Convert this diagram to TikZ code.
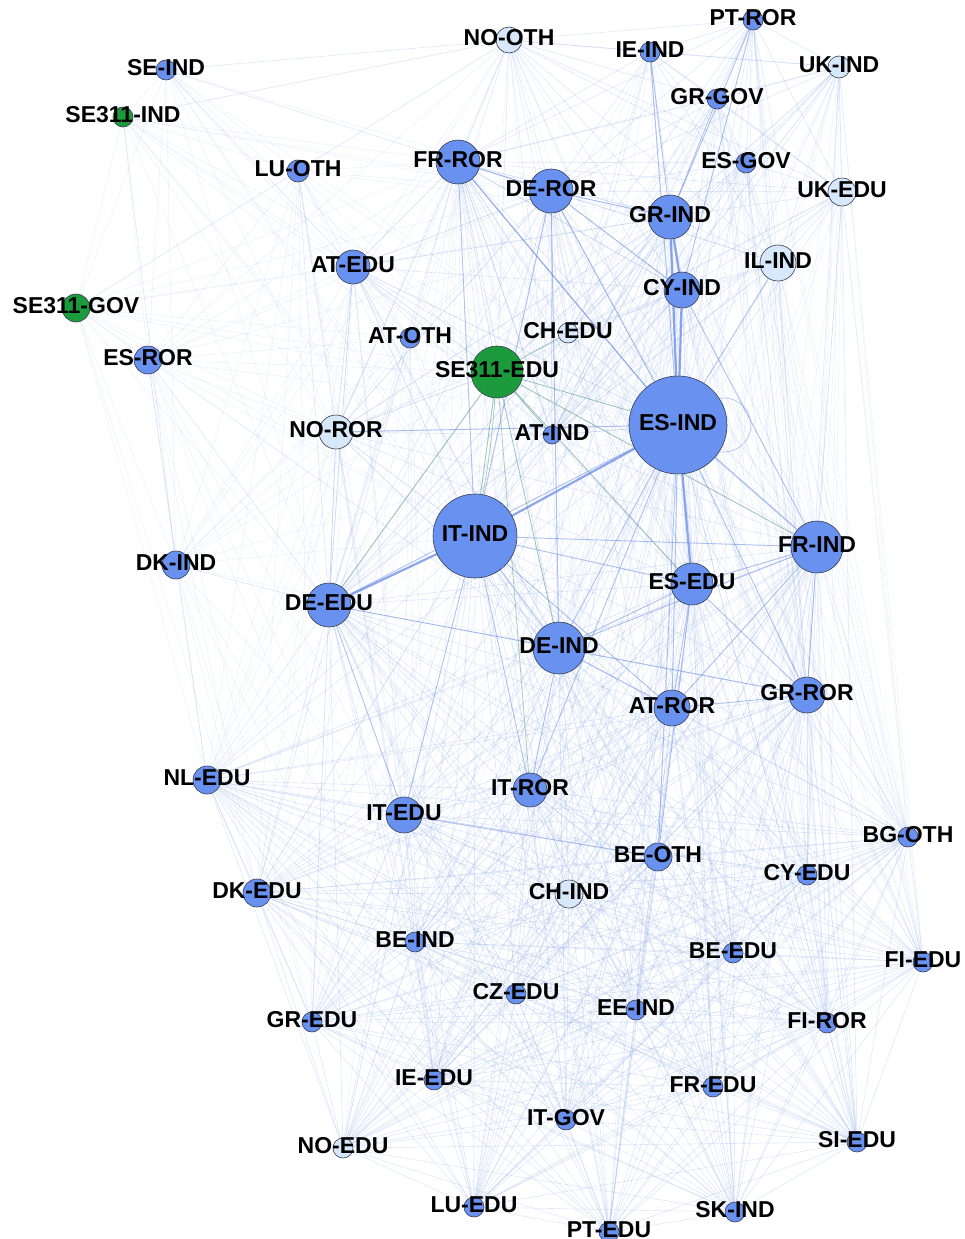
\documentclass[tikz,border=0pt]{standalone}
\usepackage{fontspec}
\setmainfont{Liberation Sans}
\pgfdeclarelayer{bg}
\pgfdeclarelayer{edges}
\pgfsetlayers{bg,edges,main}
\definecolor{bluefill}{RGB}{105,145,240}
\definecolor{lightfill}{RGB}{214,232,250}
\definecolor{greenfill}{RGB}{28,155,60}
\definecolor{nodeborder}{RGB}{55,60,80}
\definecolor{edgeblue}{RGB}{140,172,236}
\definecolor{edgestrong}{RGB}{100,135,228}
\definecolor{edgegreen}{RGB}{70,150,110}
\tikzset{
  gnode/.style={circle, draw=nodeborder, line width=0.6pt, inner sep=0pt},
  nlabel/.style={inner sep=0pt, font=\bfseries\fontsize{23}{25}\selectfont, text=black},
  efaint/.style={draw=edgeblue, line width=0.6pt, opacity=0.27},
  evfaint/.style={draw=edgeblue, line width=0.5pt, opacity=0.17},
  emed/.style={draw=edgestrong, line width=0.9pt, opacity=0.42},
  estrong/.style={draw=edgestrong, line width=2.2pt, opacity=0.7},
  egreen/.style={draw=edgegreen, line width=0.8pt, opacity=0.45},
}
\def\NodeData{NOOTH/509/40/13/lightfill/NO-OTH,
PTROR/753/20/10/bluefill/PT-ROR,
IEIND/650/52/10/bluefill/IE-IND,
SEIND/166/70/10/bluefill/SE-IND,
UKIND/839/67/11/lightfill/UK-IND,
GRGOV/717/99/10/bluefill/GR-GOV,
SEIIIIND/123/117/10/greenfill/SE311-IND,
LUOTH/298/171/11/bluefill/LU-OTH,
FRROR/458/162/22/bluefill/FR-ROR,
ESGOV/746/163/10/bluefill/ES-GOV,
DEROR/551/191/22/bluefill/DE-ROR,
UKEDU/842/192/14/lightfill/UK-EDU,
GRIND/670/217/22/bluefill/GR-IND,
ATEDU/353/267/17/bluefill/AT-EDU,
ILIND/778/263/18/lightfill/IL-IND,
SEIIIGOV/76/308/14/greenfill/SE311-GOV,
CYIND/682/290/18/bluefill/CY-IND,
ATOTH/410/338/10/bluefill/AT-OTH,
CHEDU/568/333/10/lightfill/CH-EDU,
ESROR/148/360/14/bluefill/ES-ROR,
SEIIIEDU/497/372/26/greenfill/SE311-EDU,
ESIND/678/425/49/bluefill/ES-IND,
NOROR/336/432/17/lightfill/NO-ROR,
ATIND/552/435/9/bluefill/AT-IND,
ITIND/475/536/42/bluefill/IT-IND,
FRIND/817/547/26/bluefill/FR-IND,
DKIND/176/565/14/bluefill/DK-IND,
DEEDU/329/605/22/bluefill/DE-EDU,
ESEDU/692/584/21/bluefill/ES-EDU,
DEIND/559/648/26/bluefill/DE-IND,
GRROR/807/695/18/bluefill/GR-ROR,
ATROR/672/708/18/bluefill/AT-ROR,
NLEDU/207/780/14/bluefill/NL-EDU,
ITROR/530/790/17/bluefill/IT-ROR,
ITEDU/404/815/18/bluefill/IT-EDU,
BGOTH/908/837/10/bluefill/BG-OTH,
BEOTH/658/857/14/bluefill/BE-OTH,
CYEDU/807/875/10/bluefill/CY-EDU,
DKEDU/257/893/14/bluefill/DK-EDU,
CHIND/569/894/14/lightfill/CH-IND,
BEIND/415/942/10/bluefill/BE-IND,
BEEDU/733/953/10/bluefill/BE-EDU,
FIEDU/923/962/10/bluefill/FI-EDU,
CZEDU/516/994/10/bluefill/CZ-EDU,
EEIND/636/1010/10/bluefill/EE-IND,
GREDU/312/1022/10/bluefill/GR-EDU,
FIROR/827/1023/10/bluefill/FI-ROR,
IEEDU/434/1080/10/bluefill/IE-EDU,
FREDU/713/1087/10/bluefill/FR-EDU,
ITGOV/566/1120/10/bluefill/IT-GOV,
SIEDU/857/1142/10/bluefill/SI-EDU,
NOEDU/343/1148/10/lightfill/NO-EDU,
LUEDU/474/1207/10/bluefill/LU-EDU,
SKIND/735/1212/10/bluefill/SK-IND,
PTEDU/609/1232/10/bluefill/PT-EDU}
\def\Low{NLEDU,BGOTH,CYEDU,DKEDU,CHIND,BEIND,BEEDU,FIEDU,CZEDU,EEIND,GREDU,FIROR,IEEDU,FREDU,ITGOV,SIEDU,NOEDU,LUEDU,SKIND,PTEDU,GRROR,ATROR,ITROR,ITEDU,BEOTH}
\def\Hubs{ESIND,ITIND,DEIND,FRIND,ESEDU,DEEDU}
\def\UpHubs{GRIND,CYIND,DEROR,FRROR}
\def\Top{NOOTH,PTROR,IEIND,UKIND,GRGOV,ESGOV,UKEDU,ILIND,CHEDU,GRIND,CYIND,DEROR,FRROR,ESIND,ATIND}
\def\TopSmall{NOOTH,PTROR,IEIND,UKIND,GRGOV,ESGOV,UKEDU,ILIND,CHEDU}
\def\MidHubs{ITIND,DEIND,FRIND,ESEDU,GRROR,ATROR,DEEDU,SEIIIEDU}
\def\RightTop{UKIND,UKEDU,ILIND,ESGOV,PTROR,GRGOV}
\def\RightLow{BGOTH,FIEDU,SIEDU,CYEDU,FIROR,BEEDU,GRROR}
\def\Left{SEIND,SEIIIIND,SEIIIGOV,ESROR,DKIND,LUOTH,ATEDU,ATOTH,NOROR,SEIIIEDU,FRROR,NOOTH}
\def\LeftSmall{SEIND,SEIIIIND,SEIIIGOV,ESROR,DKIND,LUOTH,ATEDU,ATOTH,NOROR}
\def\LeftTargets{ESIND,ITIND,DEROR,DEEDU,GRIND,DEIND}
\def\LeftMid{ATEDU,NOROR,DKIND,ATOTH,LUOTH,ESROR}
\def\LeftLow{NLEDU,DKEDU,ITEDU,GREDU,BEIND,DEEDU,IEEDU}
\begin{document}
\begin{tikzpicture}[x=1pt,y=-1pt]
\useasboundingbox (0,0) rectangle (965,1239);
\begin{pgfonlayer}{bg}
\fill[white] (0,0) rectangle (965,1239);
\end{pgfonlayer}
% nodes
\foreach \n/\x/\y/\r/\c/\t in \NodeData {
  \node[gnode, fill=\c, minimum size={2*\r*1pt}] (\n) at (\x,\y) {};
}
\begin{pgfonlayer}{edges}
% lower mesh (complete)
\foreach \a [count=\i] in \Low {
  \foreach \b [count=\j] in \Low {
    \ifnum\j>\i \draw[efaint] (\a) -- (\b); \fi
  }
}
% hubs to lower
\foreach \a in \Hubs { \foreach \b in \Low { \draw[efaint] (\a) -- (\b); } }
\foreach \a in \UpHubs { \foreach \b in \Low { \draw[evfaint] (\a) -- (\b); } }
% hubs among each other
\foreach \a [count=\i] in {ESIND,ITIND,DEIND,FRIND,ESEDU,DEEDU,GRIND,CYIND,DEROR,FRROR,SEIIIEDU,ATIND,NOROR,ATEDU} {
  \foreach \b [count=\j] in {ESIND,ITIND,DEIND,FRIND,ESEDU,DEEDU,GRIND,CYIND,DEROR,FRROR,SEIIIEDU,ATIND,NOROR,ATEDU} {
    \ifnum\j>\i \draw[efaint] (\a) -- (\b); \fi
  }
}
% top mesh
\foreach \a [count=\i] in \Top {
  \foreach \b [count=\j] in \Top {
    \ifnum\j>\i \draw[efaint] (\a) -- (\b); \fi
  }
}
\foreach \a in \TopSmall { \foreach \b in \MidHubs { \draw[evfaint] (\a) -- (\b); } }
\foreach \a in \RightTop { \foreach \b in \RightLow { \draw[evfaint] (\a) -- (\b); } }
% left mesh
\foreach \a [count=\i] in \Left {
  \foreach \b [count=\j] in \Left {
    \ifnum\j>\i \draw[evfaint] (\a) -- (\b); \fi
  }
}
\foreach \a in \LeftSmall { \foreach \b in \LeftTargets { \draw[evfaint] (\a) -- (\b); } }
\foreach \a in \LeftMid { \foreach \b in \LeftLow { \draw[evfaint] (\a) -- (\b); } }
\foreach \a/\b in {SEIIIGOV/NLEDU, ESROR/NLEDU, SEIIIGOV/DKEDU, SEIIIIND/DKIND, SEIND/ATEDU, SEIND/NOOTH, SEIIIIND/NOOTH} { \draw[evfaint] (\a) -- (\b); }
% medium edges
\foreach \a/\b in {ESIND/DEROR, ESIND/FRROR, GRIND/DEROR, GRIND/IEIND, ESIND/IEIND, ITIND/DEIND, ITIND/FRIND,
  FRIND/ESEDU, FRIND/DEIND, FRIND/GRROR, ESEDU/DEIND, DEEDU/DEIND, ESIND/GRROR, FRROR/ITIND, DEROR/ITIND,
  DEROR/DEIND, ITEDU/BEOTH, ITROR/DEIND, ESIND/ITROR, ESIND/ATROR, CYIND/FRIND, ESEDU/ATROR, GRROR/DEIND,
  GRROR/ATROR, FRROR/DEROR, ESIND/BEOTH, ITIND/ITROR, ITIND/ITEDU, ESEDU/ITIND, ESIND/ILIND, GRIND/GRGOV,
  GRIND/PTROR, CYIND/PTROR, ESIND/NOROR, FRROR/ESIND, DEROR/CYIND, ESEDU/GRROR, ESEDU/BEOTH, DEIND/ATROR,
  FRIND/ATROR, ITIND/ATROR, DEEDU/ITEDU, ESIND/DEEDU} { \draw[emed] (\a) -- (\b); }
% strong edges
\foreach \a/\b in {ESIND/ITIND, ESIND/GRIND, ESIND/CYIND, GRIND/CYIND, ESIND/ESEDU, ITIND/DEEDU} { \draw[estrong] (\a) -- (\b); }
\draw[emed] (ESIND) -- (DEIND);
\draw[emed, line width=1.4pt] (ESIND) -- (FRIND);
% green edges
\foreach \b in {ITIND, ESIND, ATIND, DEIND, ESEDU, DEEDU, CHEDU, FRIND, ITROR} { \draw[egreen] (SEIIIEDU) -- (\b); }
\draw[egreen] (SEIIIEDU) to[bend left=3] (ITIND);
% self loop
\draw[emed, line width=0.8pt] (ESIND.center) ++(46,0) circle[radius=27pt];
\end{pgfonlayer}
% labels
\foreach \n/\x/\y/\r/\c/\t in \NodeData {
  \node[nlabel] (\n-l) at (\x,\y-2.5) {\t};
}
\end{tikzpicture}
\end{document}
